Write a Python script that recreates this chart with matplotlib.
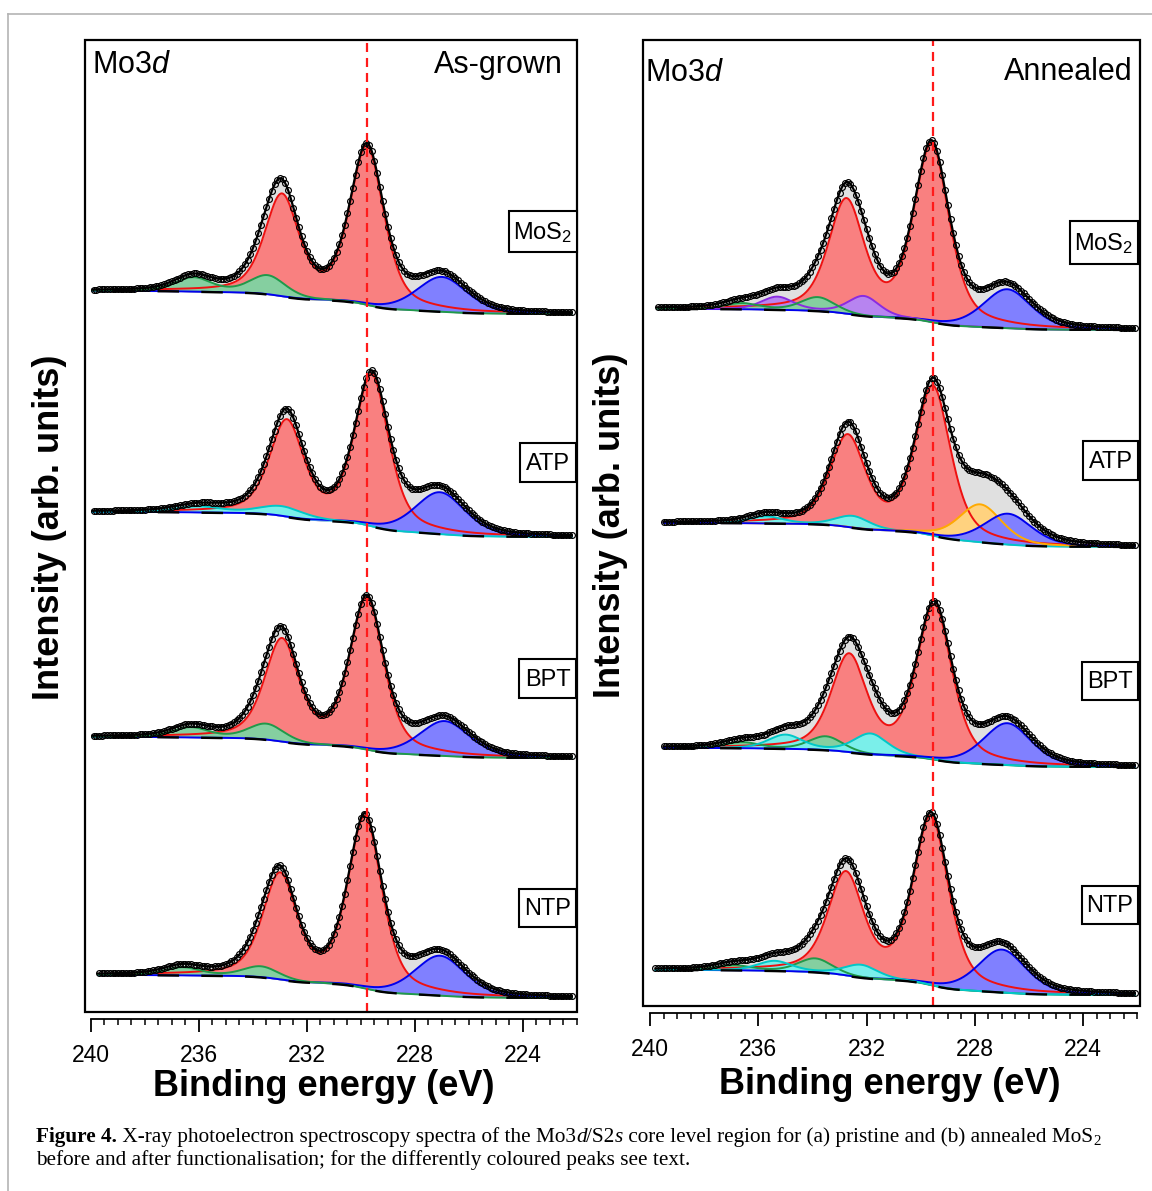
import numpy as np
import matplotlib
matplotlib.use("Agg")
import matplotlib.pyplot as plt
from matplotlib.patches import Rectangle
from matplotlib.lines import Line2D
from matplotlib.ticker import MultipleLocator, FixedLocator

plt.rcParams['font.family'] = ['Liberation Sans', 'DejaVu Sans']
plt.rcParams['mathtext.fontset'] = 'custom'
plt.rcParams['mathtext.rm'] = 'Liberation Sans'
plt.rcParams['mathtext.it'] = 'Liberation Sans:italic'
plt.rcParams['mathtext.bf'] = 'Liberation Sans:bold'
plt.rcParams['lines.scale_dashes'] = False

# ---------------- data ----------------
SAMPLES = ["MoS$_2$", "ATP", "BPT", "NTP"]
MAJOR_TICKS = [240, 236, 232, 228, 224]
MO_SPLIT = 3.15          # Mo3d spin-orbit splitting (eV)

# (a) as-grown
AG_BG_HIGH = [721, 500, 275, 37]      # background level at 240 eV
AG_BG_LOW = [698, 475, 254, 14]       # background level at 222 eV
AG_E_START = [239.95, 239.95, 239.95, 239.75]
AG_E_END = [222.2, 222.2, 222.2, 222.2]
AG_MO_E = [229.78, 229.60, 229.78, 229.85]
AG_MO_H52 = [157, 150, 150, 170]
AG_MO_H32 = [99, 94, 100, 103]
AG_S2S_E = [227.0, 227.07, 226.9, 227.07]
AG_S2S_H = [35, 42, 35, 40]
AG_GREEN_E = [[233.45, 236.2], [], [233.5, 236.3], [233.7, 236.6]]
AG_GREEN_H = [[19, 14], [], [16, 10], [11, 8]]
AG_CYAN_E = [[], [232.9, 236.0], [], []]
AG_CYAN_H = [[], [10, 6], [], []]
AG_REF_E = 229.78

# (b) annealed
AN_BG_HIGH = [697, 483, 258, 36]
AN_BG_LOW = [676, 459, 239, 11]
AN_E_START = [239.75, 239.5, 239.5, 239.8]
AN_E_END = [222.1, 222.1, 222.1, 222.1]
AN_MO_E = [229.60, 229.55, 229.50, 229.62]
AN_MO_H52 = [176, 148, 153, 167]
AN_MO_H32 = [111, 89, 95, 100]
AN_S2S_E = [226.8, 226.77, 226.8, 227.0]
AN_S2S_H = [39, 31, 42, 43]
AN_GREEN_E = [[233.8, 236.6], [], [233.5, 236.6], [233.9, 236.9]]
AN_GREEN_H = [[14, 6], [], [14, 6], [14, 5]]
AN_CYAN_E = [[], [232.5, 235.7], [231.85, 235.0], [232.2, 235.4]]
AN_CYAN_H = [[], [12, 7], [21, 14], [13, 10]]
AN_PURPLE_E = [[232.1, 235.3], [], [], []]
AN_PURPLE_H = [[20, 13], [], [], []]
AN_ORANGE_E = [[], [227.8], [], []]
AN_ORANGE_H = [[], [38], [], []]
AN_REF_E = 229.55

# peak widths (FWHM, eV) and Lorentzian fraction
AG_W = {'red': 1.5, 'blue': 2.2, 'green': 1.6, 'cyan': 2.0}
AN_W = {'red': 1.55, 'blue': 2.1, 'green': 1.5, 'cyan': 1.5, 'purple': 1.4, 'orange': 1.9}
ETA = {'red': 0.5, 'blue': 0.4, 'green': 0.4, 'cyan': 0.4, 'purple': 0.4, 'orange': 0.4}

# ---------------- styles ----------------
FILL = {'red': '#f98080', 'blue': '#8080ff', 'green': '#85cfa0', 'cyan': '#7aefea',
        'purple': '#b784f0', 'orange': '#ffd27f'}
LINE = {'red': '#ee1111', 'blue': '#0000ee', 'green': '#1f9a4a', 'cyan': '#00c8c8',
        'purple': '#8a2be2', 'orange': '#ffaa00'}
GRAY = '#e0e0e0'

W, H = 1152, 1191
fig = plt.figure(figsize=(W / 100, H / 100), dpi=100)


def frect(x0, y0, x1, y1):
    return [x0 / W, 1 - y1 / H, (x1 - x0) / W, (y1 - y0) / H]


def P(x, y):
    return x / W, 1 - y / H


def pv(E, c, h, w, eta):
    x = (E - c) / w
    return h * (eta / (1 + 4 * x ** 2) + (1 - eta) * np.exp(-4 * np.log(2) * x ** 2))


EGRID = 222.0 + 0.02 * np.arange(901)
KIDX = np.arange(901)


def draw_spectrum(ax, comps, widths, bg_hi, bg_lo, e_start, e_end):
    curves = []
    for name, cs, hs in comps:
        arr = np.zeros_like(EGRID)
        for c, h in zip(cs, hs):
            arr += pv(EGRID, c, h, widths[name], ETA[name])
        curves.append((name, arr))
    total = sum(a for _, a in curves)
    cum = np.cumsum(total)
    bg = bg_lo + (bg_hi - bg_lo) * cum / cum[-1]
    env = bg + total
    m = (EGRID >= e_end - 1e-9) & (EGRID <= e_start + 1e-9)
    E = EGRID[m]
    ax.fill_between(E, bg[m], env[m], color=GRAY, lw=0, zorder=2)
    for name, arr in curves:
        ax.fill_between(E, bg[m], bg[m] + arr[m], color=FILL[name], lw=0, zorder=3)
    for name, arr in curves:
        ax.plot(E, bg[m] + arr[m], color=LINE[name], lw=1.4, zorder=4)
    ax.plot(E, bg[m], color='black', lw=1.7, dashes=(15.5, 16), zorder=5)
    ax.plot(E, env[m], color='black', lw=1.6, zorder=6)
    pts = m & (KIDX % 5 == 0)
    ax.plot(EGRID[pts], env[pts], 'o', mfc='none', mec='black', ms=4.2, mew=0.85, zorder=7)


def setup_axis(ax, xlim, ylim):
    ax.set_xlim(*xlim)
    ax.set_ylim(*ylim)
    for s in ('top', 'left', 'right'):
        ax.spines[s].set_visible(False)
    ax.spines['bottom'].set_position(('outward', 5))
    ax.spines['bottom'].set_bounds(240, 222)
    ax.spines['bottom'].set_linewidth(1.3)
    ax.xaxis.set_major_locator(FixedLocator(MAJOR_TICKS))
    ax.xaxis.set_minor_locator(MultipleLocator(0.5))
    ax.set_xticklabels([str(t) for t in MAJOR_TICKS])
    ax.tick_params(axis='x', which='major', length=9, width=1.3, labelsize=16.5, pad=9)
    ax.tick_params(axis='x', which='minor', length=4.5, width=1.1)
    ax.set_yticks([])
    ax.add_patch(Rectangle((0, 0), 1, 1, transform=ax.transAxes, fill=False,
                           ec='black', lw=1.6, clip_on=False, zorder=10))


# ---------------- panels ----------------
axL = fig.add_axes(frect(85, 40, 577, 1012))
axR = fig.add_axes(frect(643, 40, 1140, 1006))
setup_axis(axL, (240.22, 222.0), (0, 972))
setup_axis(axR, (240.26, 221.9), (0, 966))

for i in range(4):
    comps = [('red', [AG_MO_E[i], AG_MO_E[i] + MO_SPLIT], [AG_MO_H52[i], AG_MO_H32[i]]),
             ('blue', [AG_S2S_E[i]], [AG_S2S_H[i]])]
    if AG_CYAN_E[i]:
        comps.append(('cyan', AG_CYAN_E[i], AG_CYAN_H[i]))
    if AG_GREEN_E[i]:
        comps.append(('green', AG_GREEN_E[i], AG_GREEN_H[i]))
    draw_spectrum(axL, comps, AG_W, AG_BG_HIGH[i], AG_BG_LOW[i], AG_E_START[i], AG_E_END[i])

AN_ORDER = [['red', 'blue', 'purple', 'green'],
            ['red', 'cyan', 'orange', 'blue'],
            ['red', 'green', 'cyan', 'blue'],
            ['red', 'blue', 'green', 'cyan']]
for i in range(4):
    avail = {'red': ([AN_MO_E[i], AN_MO_E[i] + MO_SPLIT], [AN_MO_H52[i], AN_MO_H32[i]]),
             'blue': ([AN_S2S_E[i]], [AN_S2S_H[i]]),
             'green': (AN_GREEN_E[i], AN_GREEN_H[i]),
             'cyan': (AN_CYAN_E[i], AN_CYAN_H[i]),
             'purple': (AN_PURPLE_E[i], AN_PURPLE_H[i]),
             'orange': (AN_ORANGE_E[i], AN_ORANGE_H[i])}
    comps = [(n, avail[n][0], avail[n][1]) for n in AN_ORDER[i] if avail[n][0]]
    draw_spectrum(axR, comps, AN_W, AN_BG_HIGH[i], AN_BG_LOW[i], AN_E_START[i], AN_E_END[i])

for ax, e0 in ((axL, AG_REF_E), (axR, AN_REF_E)):
    ax.axvline(e0, color='#ff1a1a', lw=1.6, dashes=(6.5, 4.3), zorder=8)

# faint sub-frames behind each spectrum
FRAMES = [(92, 292, 573, 372), (97, 517, 573, 618), (100, 740, 573, 812), (100, 977, 573, 1007),
          (657, 310, 1136, 427), (663, 523, 1136, 748), (655, 970, 1136, 1004)]
for x0, y0, x1, y1 in FRAMES:
    fig.add_artist(Rectangle(P(x0, y1), (x1 - x0) / W, (y1 - y0) / H, transform=fig.transFigure,
                             fill=False, ec='#e2e8eb', lw=0.9, zorder=-1))

# sample label boxes
BOXES_L = [(509, 211, 577, 252), (520, 443, 576, 482), (519, 659, 576, 698), (519, 889, 576, 927)]
BOXES_R = [(1070, 221, 1138, 264), (1083, 441, 1138, 480), (1082, 662, 1138, 700), (1082, 886, 1138, 924)]
for boxes in (BOXES_L, BOXES_R):
    for (x0, y0, x1, y1), lab in zip(boxes, SAMPLES):
        fig.add_artist(Rectangle(P(x0, y1), (x1 - x0) / W, (y1 - y0) / H, transform=fig.transFigure,
                                 fc='white', ec='black', lw=1.5, zorder=20))
        fig.text(*P((x0 + x1) / 2, (y0 + y1) / 2 + 1), lab, ha='center', va='center',
                 fontsize=17, zorder=21)

# panel titles
fig.text(*P(92, 73), r'Mo3$\mathit{d}$', fontsize=22, ha='left', va='baseline', zorder=21)
fig.text(*P(563, 73), 'As-grown', fontsize=22, ha='right', va='baseline', zorder=21)
fig.text(*P(645, 81), r'Mo3$\mathit{d}$', fontsize=22, ha='left', va='baseline', zorder=21)
fig.text(*P(1133, 80), 'Annealed', fontsize=22, ha='right', va='baseline', zorder=21)

# axis labels
for x, y in ((50, 527), (611, 525)):
    fig.text(*P(x, y), 'Intensity (arb. units)', rotation=90, ha='center', va='center',
             fontsize=26, fontweight='bold')
for x, y in ((324, 1087), (890, 1084)):
    fig.text(*P(x, y), 'Binding energy (eV)', ha='center', va='center',
             fontsize=26, fontweight='bold')

# page frame
fig.add_artist(Line2D([8 / W, 8 / W], [0, 1 - 14 / H], color='#b4b4b4', lw=1.2,
                      transform=fig.transFigure))
fig.add_artist(Line2D([8 / W, 1], [1 - 14 / H, 1 - 14 / H], color='#b4b4b4', lw=1.2,
                      transform=fig.transFigure))

# caption
renderer = fig.canvas.get_renderer()
SERIF = 'Liberation Serif'


def text_width(s, fs, **kw):
    a = fig.text(0, 0, '|' + s + '|', fontsize=fs, family=SERIF, **kw)
    b = fig.text(0, 0, '||', fontsize=fs, family=SERIF, **kw)
    w = a.get_window_extent(renderer).width - b.get_window_extent(renderer).width
    a.remove()
    b.remove()
    return w


LINE2 = 'before and after functionalisation; for the differently coloured peaks see text.'
cap_fs = 10 * 652 / text_width(LINE2, 10)


def draw_runs(x, y, runs):
    for s, kw in runs:
        kw = dict(kw)
        dy = kw.pop('dy', 0)
        fs = kw.pop('fs', cap_fs)
        fig.text(*P(x, y + dy), s, fontsize=fs, family=SERIF, ha='left', va='baseline', **kw)
        x += text_width(s, fs, **kw)


draw_runs(36, 1142, [
    ('Figure 4.', {'fontweight': 'bold'}),
    (' X-ray photoelectron spectroscopy spectra of the Mo3', {}),
    ('d', {'fontstyle': 'italic'}),
    ('/S2', {}),
    ('s', {'fontstyle': 'italic'}),
    (' core level region for (a) pristine and (b) annealed MoS', {}),
    ('2', {'fs': cap_fs * 0.7, 'dy': 3}),
])
draw_runs(36, 1165, [(LINE2, {})])

fig.savefig('out.png', dpi=100)
